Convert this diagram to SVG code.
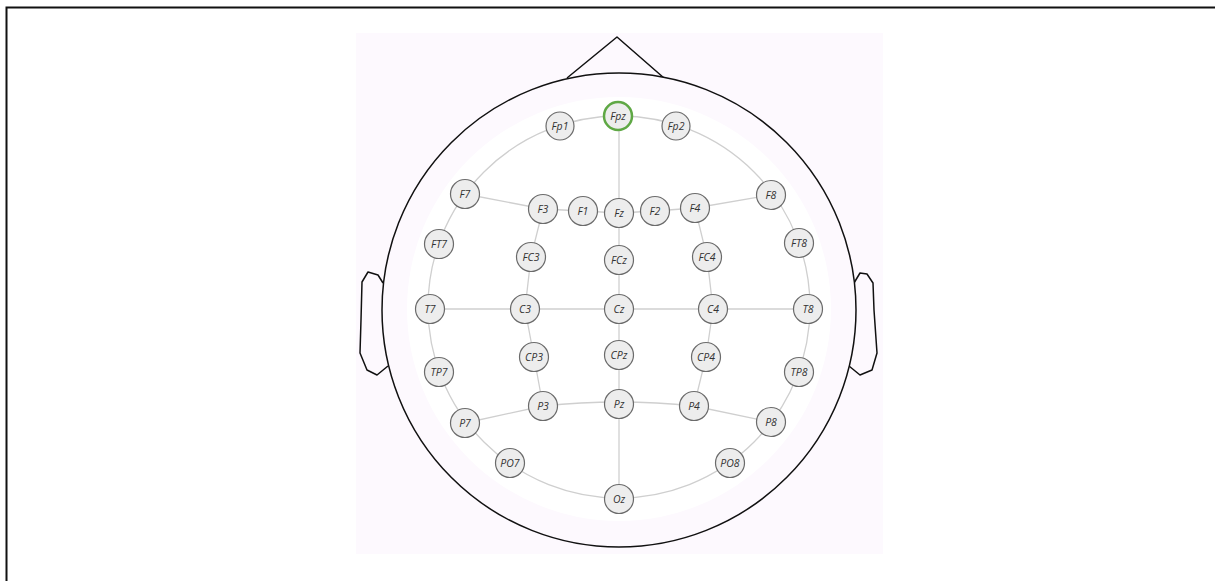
<svg xmlns="http://www.w3.org/2000/svg" width="1215" height="581" viewBox="0 0 1215 581">
<style>
.e circle{fill:#ededed;stroke:#6b6b6b;stroke-width:1.2}
.e text{font-family:"Open Sans","Liberation Sans",sans-serif;font-style:italic;font-size:10.5px;fill:#333;text-anchor:middle;dominant-baseline:central}
.c{fill:none;stroke:#cfcfcf;stroke-width:1.3}
.h{fill:none;stroke:#111;stroke-width:1.5;stroke-linejoin:round}
</style>
<rect width="1215" height="581" fill="#fff"/>
<path d="M6.5 581 V7.5 H1215" fill="none" stroke="#111" stroke-width="2"/>
<rect x="356" y="33" width="527" height="521" fill="#fdf9fe"/>
<g id="head">
<path class="h" d="M567 78 L617 37 L664 78"/>
<path class="h" d="M383 283 L378 275 L368 272 L362 282 L361 320 L360 353 L367 370 L377 375 L388 366"/>
<path class="h" d="M854 283 L860 273 L867 274 L873 283 L874 310 L877 353 L872 370 L860 375 L849 366"/>
<circle cx="619" cy="310" r="237" fill="#fdf9fe" stroke="#111" stroke-width="1.5"/>
<circle cx="619" cy="309" r="212" fill="#fff"/>
</g>
<g id="connectors">
<circle class="c" cx="619" cy="307" r="191"/>
<path class="c" d="M619 115 V499"/>
<path class="c" d="M430 309 H808"/>
<path class="c" d="M465 194 L543 209 L583 211 L619 213 L655 211 L695 208 L771 195"/>
<path class="c" d="M465 423 L543 406 Q619 398 694 406 L771 422"/>
<path class="c" d="M543 209 L531 257 L525 309 L534 357 L543 406"/>
<path class="c" d="M695 208 L707 257 L713 309 L706 357 L694 406"/>
</g>
<g class="e">
<g id="Fpz"><circle cx="618" cy="116" r="14" style="stroke:#5fa845;stroke-width:2.5"/><text x="618" y="116">Fpz</text></g>
<g id="Fp1"><circle cx="560" cy="126" r="14"/><text x="560" y="126">Fp1</text></g>
<g id="Fp2"><circle cx="676" cy="126" r="14"/><text x="676" y="126">Fp2</text></g>
<g id="F7"><circle cx="465" cy="194" r="14.5"/><text x="465" y="194">F7</text></g>
<g id="F3"><circle cx="543" cy="209" r="14.5"/><text x="543" y="209">F3</text></g>
<g id="F1"><circle cx="583" cy="211" r="14.5"/><text x="583" y="211">F1</text></g>
<g id="Fz"><circle cx="619" cy="213" r="14.5"/><text x="619" y="213">Fz</text></g>
<g id="F2"><circle cx="655" cy="211" r="14.5"/><text x="655" y="211">F2</text></g>
<g id="F4"><circle cx="695" cy="208" r="14.5"/><text x="695" y="208">F4</text></g>
<g id="F8"><circle cx="771" cy="195" r="14.5"/><text x="771" y="195">F8</text></g>
<g id="FT7"><circle cx="439" cy="244" r="14.5"/><text x="439" y="244">FT7</text></g>
<g id="FC3"><circle cx="531" cy="257" r="14.5"/><text x="531" y="257">FC3</text></g>
<g id="FCz"><circle cx="619" cy="260" r="14.5"/><text x="619" y="260">FCz</text></g>
<g id="FC4"><circle cx="707" cy="257" r="14.5"/><text x="707" y="257">FC4</text></g>
<g id="FT8"><circle cx="799" cy="243" r="14.5"/><text x="799" y="243">FT8</text></g>
<g id="T7"><circle cx="430" cy="309" r="14.5"/><text x="430" y="309">T7</text></g>
<g id="C3"><circle cx="525" cy="309" r="14.5"/><text x="525" y="309">C3</text></g>
<g id="Cz"><circle cx="619" cy="309" r="14.5"/><text x="619" y="309">Cz</text></g>
<g id="C4"><circle cx="713" cy="309" r="14.5"/><text x="713" y="309">C4</text></g>
<g id="T8"><circle cx="808" cy="309" r="14.5"/><text x="808" y="309">T8</text></g>
<g id="TP7"><circle cx="439" cy="372" r="14.5"/><text x="439" y="372">TP7</text></g>
<g id="CP3"><circle cx="534" cy="357" r="14.5"/><text x="534" y="357">CP3</text></g>
<g id="CPz"><circle cx="619" cy="355" r="14.5"/><text x="619" y="355">CPz</text></g>
<g id="CP4"><circle cx="706" cy="357" r="14.5"/><text x="706" y="357">CP4</text></g>
<g id="TP8"><circle cx="799" cy="372" r="14.5"/><text x="799" y="372">TP8</text></g>
<g id="P7"><circle cx="465" cy="423" r="14.5"/><text x="465" y="423">P7</text></g>
<g id="P3"><circle cx="543" cy="406" r="14.5"/><text x="543" y="406">P3</text></g>
<g id="Pz"><circle cx="619" cy="404" r="14.5"/><text x="619" y="404">Pz</text></g>
<g id="P4"><circle cx="694" cy="406" r="14.5"/><text x="694" y="406">P4</text></g>
<g id="P8"><circle cx="771" cy="422" r="14.5"/><text x="771" y="422">P8</text></g>
<g id="PO7"><circle cx="510" cy="463" r="14.5"/><text x="510" y="463">PO7</text></g>
<g id="PO8"><circle cx="730" cy="463" r="14.5"/><text x="730" y="463">PO8</text></g>
<g id="Oz"><circle cx="619" cy="499" r="14.5"/><text x="619" y="499">Oz</text></g>
</g>
</svg>
